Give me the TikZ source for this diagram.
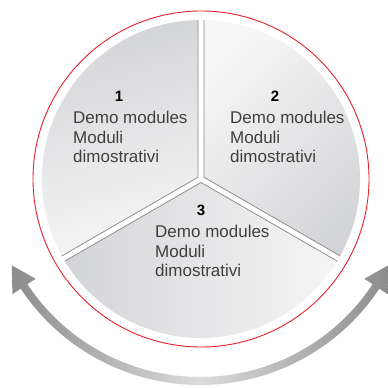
\documentclass[tikz,border=0pt]{standalone}
\usepackage{fontspec}
\setmainfont{Liberation Sans}
\definecolor{ringred}{HTML}{E8202A}
\definecolor{edgegray}{HTML}{8E8E8E}
\definecolor{txtgray}{HTML}{404040}
\definecolor{secdark}{HTML}{D3D4D7}
\definecolor{seclight}{HTML}{F6F6F6}
\definecolor{arrdark}{HTML}{8C8C8C}
\definecolor{arrlight}{HTML}{DCDCDC}
\begin{document}
\begin{tikzpicture}[x=1pt,y=1pt,
  edgeline/.style={draw=edgegray,line width=0.8pt},
  numlabel/.style={anchor=base,inner sep=0pt,text=black,font=\fontsize{15}{15}\selectfont\bfseries},
  txtline/.style={anchor=base west,inner sep=0pt,text=txtgray,font=\fontsize{17}{19.5}\selectfont}]
\useasboundingbox (0,0) rectangle (388,388);
\fill[white] (0,0) rectangle (388,388);
% arrow
\begin{scope}[shift={(200,218)}]
\shade[left color=arrdark,right color=arrdark,middle color=arrlight]
 (206.9:211) -- (213.5:225) -- (213.5:215)
 arc[start angle=213.5,end angle=326.5,radius=215]
 -- (326.5:225) -- (333.1:211) -- (326.5:197) -- (326.5:207)
 arc[start angle=326.5,end angle=213.5,radius=207]
 -- (213.5:197) -- cycle;
\end{scope}
% circle
\begin{scope}[shift={(201,209)}]
\draw[ringred,line width=0.9pt] (0,0) circle[radius=168];
\shade[top color=secdark,bottom color=seclight,shading angle=15]
 (150:3.46) -- (91.081:159) arc[start angle=91.081,end angle=208.919,radius=159] -- cycle;
\shade[top color=seclight,bottom color=secdark,shading angle=45]
 (30:3.46) -- (-28.919:159) arc[start angle=-28.919,end angle=88.919,radius=159] -- cycle;
\shade[left color=secdark,right color=seclight]
 (270:3.46) -- (211.081:159) arc[start angle=211.081,end angle=328.919,radius=159] -- cycle;
\draw[edgeline] (91.081:159) -- (150:3.46) -- (208.919:159);
\draw[edgeline] (-28.919:159) -- (30:3.46) -- (88.919:159);
\draw[edgeline] (211.081:159) -- (270:3.46) -- (328.919:159);
\end{scope}
% texts
\node[numlabel] (n1) at (119,286) {1};
\node[txtline] (a1) at (73,264) {Demo modules};
\node[txtline] (b1) at (73,244.5) {Moduli};
\node[txtline] (c1) at (73,225) {dimostrativi};
\node[numlabel] (n2) at (275,286) {2};
\node[txtline] (a2) at (230,264) {Demo modules};
\node[txtline] (b2) at (230,244.5) {Moduli};
\node[txtline] (c2) at (230,225) {dimostrativi};
\node[numlabel] (n3) at (201,172) {3};
\node[txtline] (a3) at (155,150) {Demo modules};
\node[txtline] (b3) at (155,130.5) {Moduli};
\node[txtline] (c3) at (155,111) {dimostrativi};
\end{tikzpicture}
\end{document}
